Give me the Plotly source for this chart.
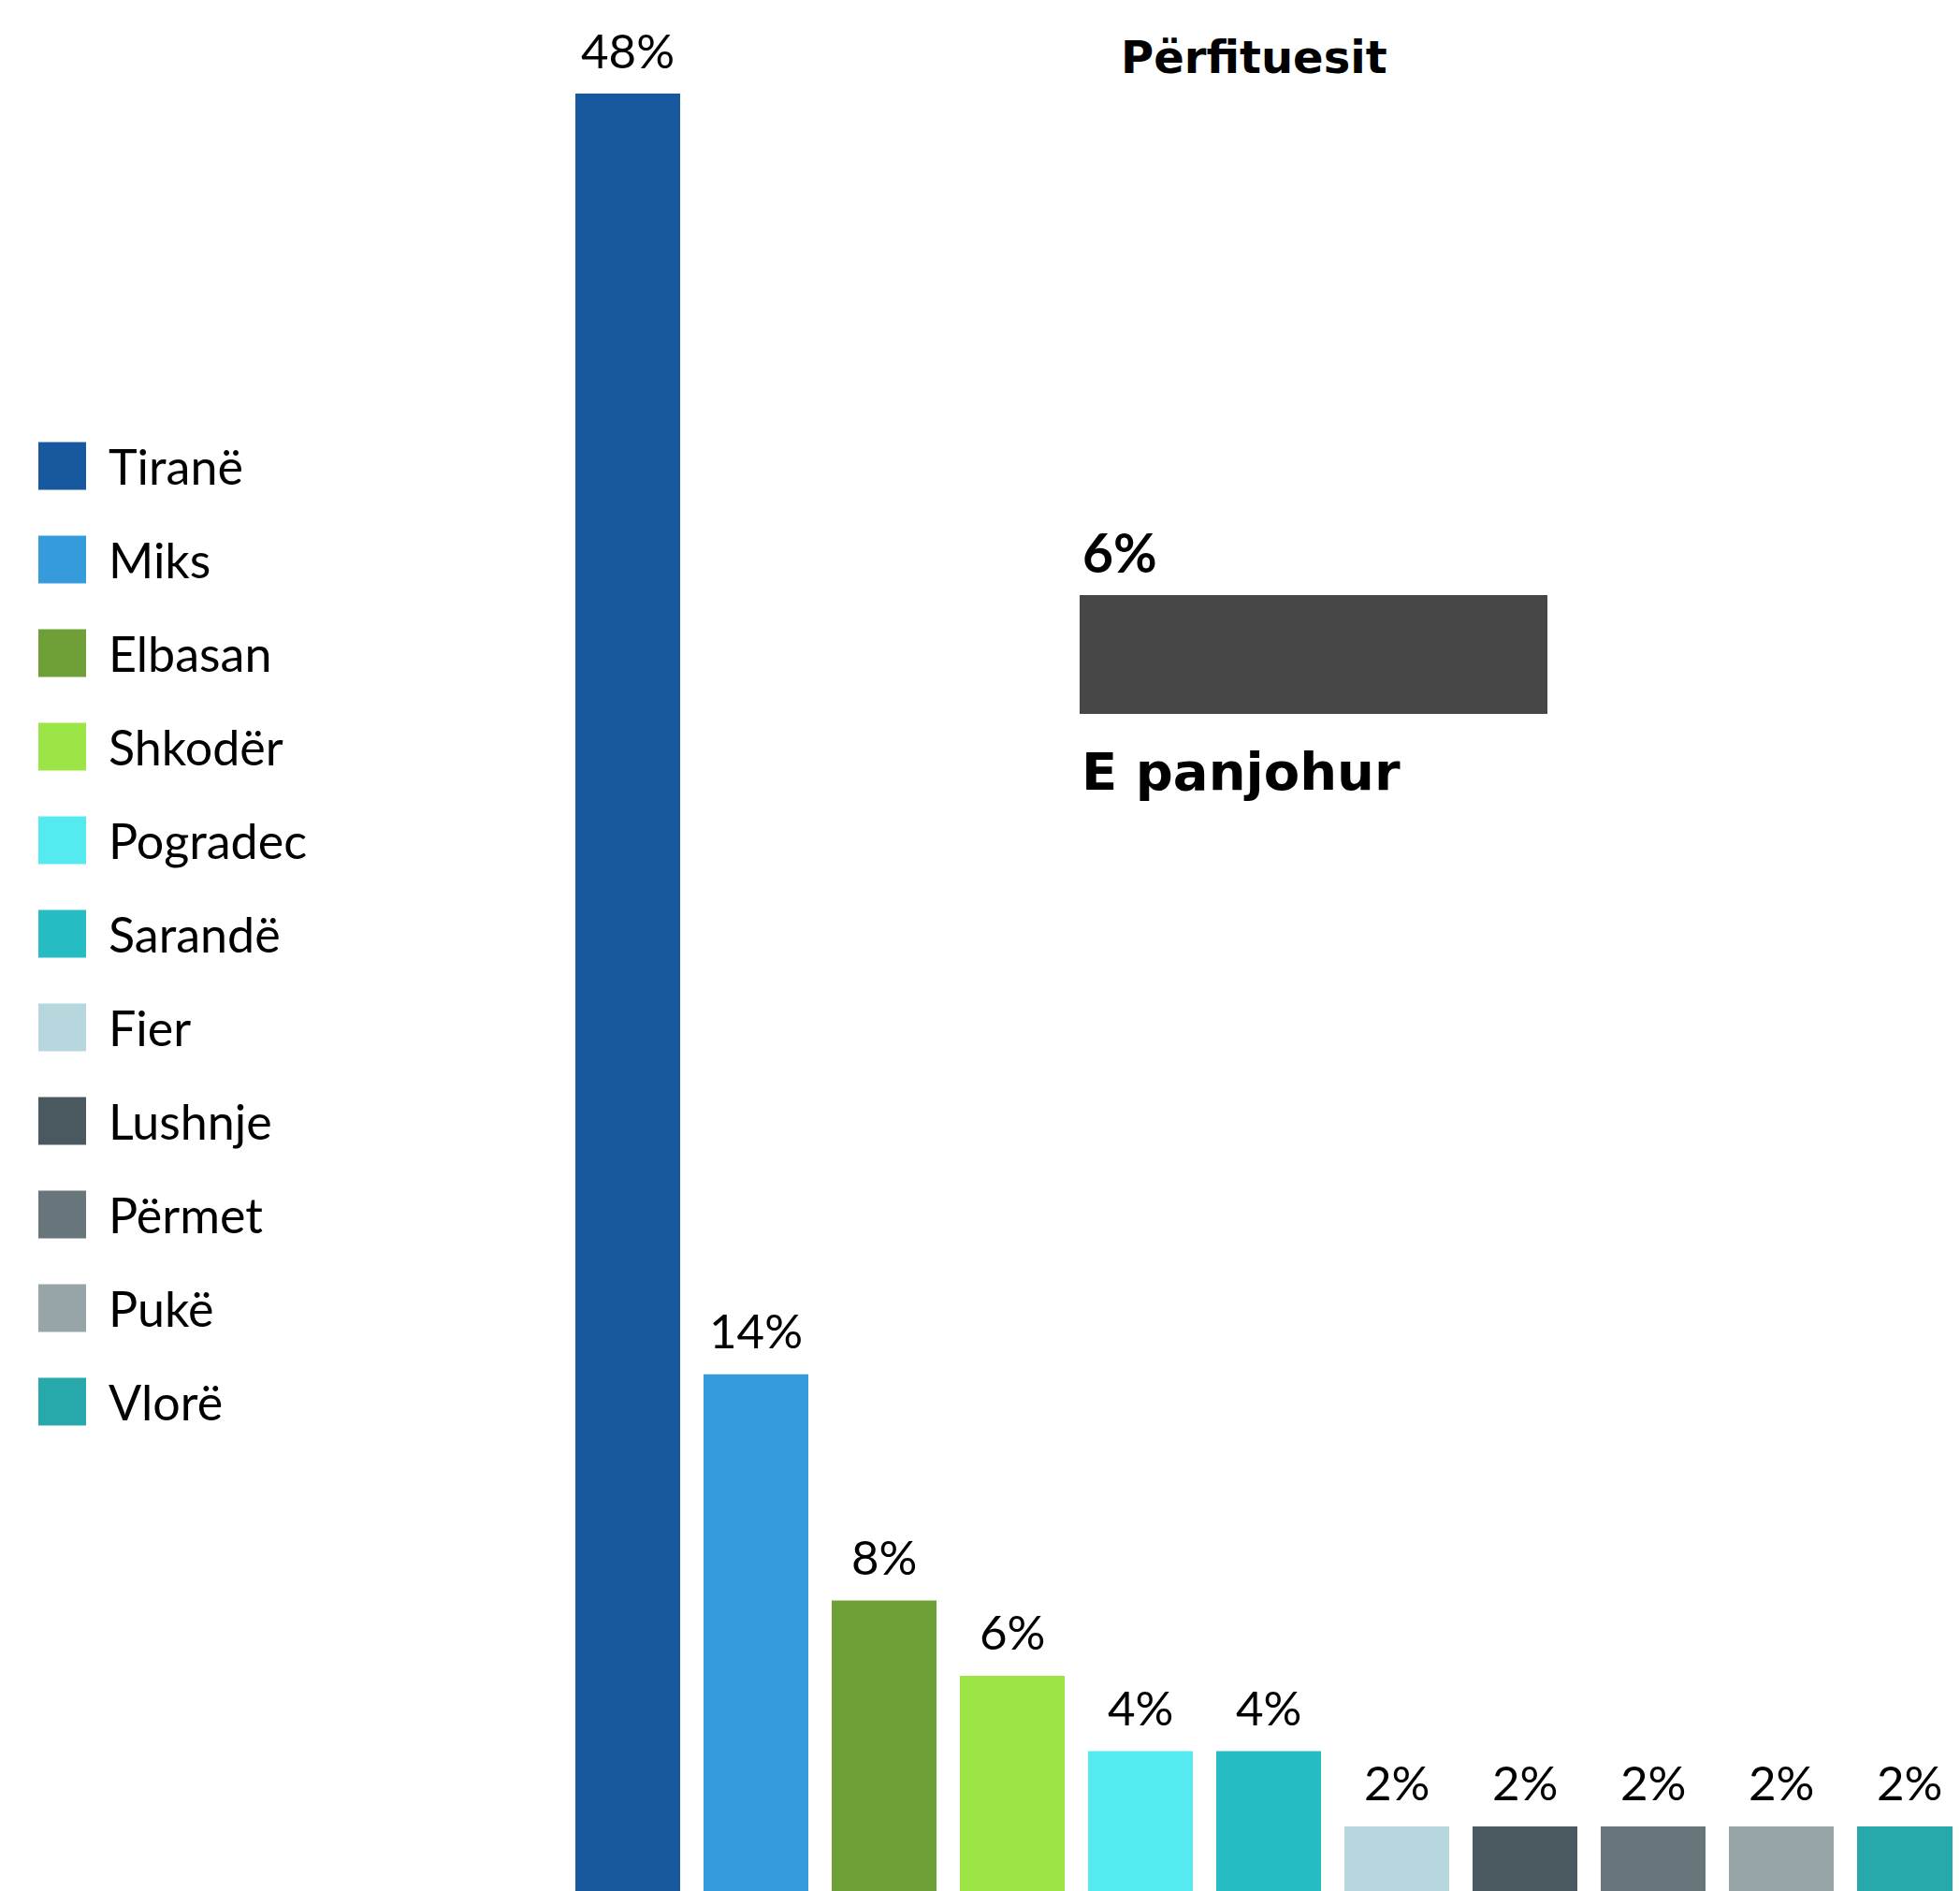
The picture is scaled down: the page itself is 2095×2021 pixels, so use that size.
import plotly.graph_objects as go

# ---- data ----
categories = ["Tiranë", "Miks", "Elbasan", "Shkodër", "Pogradec", "Sarandë",
              "Fier", "Lushnje", "Përmet", "Pukë", "Vlorë"]
values = [48, 14, 8, 6, 4, 4, 2, 2, 2, 2, 2]
colors = ["#17589E", "#369BDB", "#6EA037", "#9BE547", "#55EAF0", "#27BCC3",
          "#B6D7DD", "#4A585F", "#68767B", "#97A5A9", "#27A8AA"]
unknown_label = "E panjohur"
unknown_value = 6
unknown_color = "#474747"
title_text = "Përfituesit"

# page has an 8px body margin -> size figure to fit the window exactly
OFF = 8
W, H = 2095 - OFF, 2021 - OFF
FONT = "Lato"
BOLD_FONT = "DejaVu Sans"

fig = go.Figure()

# main bar chart
fig.add_trace(go.Bar(
    x=categories, y=values,
    marker=dict(color=colors, line=dict(width=0)),
    showlegend=False,
    xaxis="x", yaxis="y",
))

# inset horizontal bar (unknown)
fig.add_trace(go.Bar(
    x=[unknown_value], y=[unknown_label], orientation="h",
    marker=dict(color=unknown_color, line=dict(width=0)),
    showlegend=False, width=1,
    xaxis="x2", yaxis="y2",
))

# manual legend: swatches + labels
idx = list(range(len(categories)))
fig.add_trace(go.Scatter(
    x=[0] * len(categories), y=idx,
    mode="markers",
    marker=dict(symbol="square", size=51, color=colors, line=dict(width=0)),
    showlegend=False, hoverinfo="skip",
    xaxis="x3", yaxis="y3",
))
fig.add_trace(go.Scatter(
    x=[(116 - 66.5) / 100] * len(categories), y=[i + 0.07 for i in idx],
    mode="text",
    text=categories,
    textposition="middle right",
    textfont=dict(family=FONT, size=52, color="#000000"),
    showlegend=False, hoverinfo="skip",
    xaxis="x3", yaxis="y3",
))

pitch = 137.0
first_center = 671.0 - OFF
x_left = first_center - pitch / 2
x_range_end = -0.5 + (W - x_left) / pitch

unit = 40.26                 # px per 1 %
below = 11.5                 # baseline lies this many px below the figure bottom
y_lo = below / unit

inset_x0, inset_x1 = 1154 - OFF, 1654 - OFF
inset_top, inset_bot = 636 - OFF, 763 - OFF

leg_x = 66.5 - OFF
leg_y0 = 498 - OFF

annotations = []
for c, v in zip(categories, values):
    annotations.append(dict(
        text=f"{v}%", x=c, y=v, xref="x", yref="y", showarrow=False,
        xanchor="center", yanchor="middle", yshift=47,
        font=dict(family=FONT, size=51, color="#000000")))

annotations += [
    dict(text=f"<b>{title_text}</b>", x=(1340 - OFF) / W, y=1 - (61 - OFF) / H,
         xref="paper", yref="paper", showarrow=False,
         xanchor="center", yanchor="middle",
         font=dict(family=BOLD_FONT, size=48, color="#000000")),
    dict(text=f"<b>{unknown_value}%</b>", x=0, y=1,
         xref="x2 domain", yref="y2 domain", showarrow=False,
         xanchor="left", yanchor="bottom", yshift=10, xshift=1,
         font=dict(family=FONT, size=57, color="#000000")),
    dict(text=f"<b>{unknown_label}</b>", x=0, y=0,
         xref="x2 domain", yref="y2 domain", showarrow=False,
         xanchor="left", yanchor="top", yshift=-27, xshift=0,
         font=dict(family=BOLD_FONT, size=56, color="#000000")),
]

fig.update_layout(
    width=W, height=H,
    margin=dict(l=0, r=0, t=0, b=0),
    paper_bgcolor="white", plot_bgcolor="rgba(0,0,0,0)",
    bargap=25 / pitch,
    font=dict(family=FONT, color="#000000"),
    xaxis=dict(domain=[x_left / W, 1], range=[-0.5, x_range_end],
               visible=False, fixedrange=True),
    yaxis=dict(domain=[0, 1], range=[y_lo, y_lo + H / unit], visible=False),
    xaxis2=dict(domain=[inset_x0 / W, inset_x1 / W], range=[0, unknown_value],
                visible=False, anchor="y2"),
    yaxis2=dict(domain=[1 - inset_bot / H, 1 - inset_top / H], range=[-0.5, 0.5],
                visible=False, anchor="x2"),
    xaxis3=dict(domain=[0, 0.3], range=[-leg_x / 100, 0.3 * W / 100 - leg_x / 100],
                visible=False, anchor="y3"),
    yaxis3=dict(domain=[0, 1], range=[-leg_y0 / 100 + H / 100, -leg_y0 / 100],
                visible=False, anchor="x3"),
    showlegend=False,
    annotations=annotations,
)

fig.write_html("out.html")
